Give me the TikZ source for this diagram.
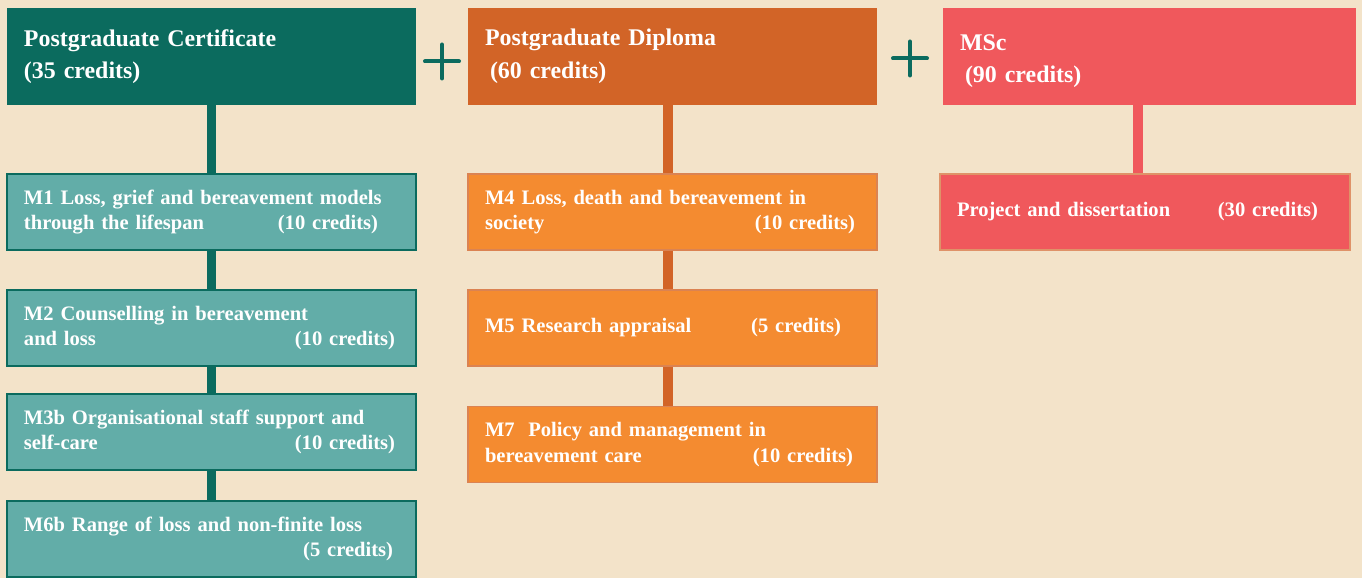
\documentclass[tikz,border=0pt]{standalone}
\usepackage{fontspec}
\setmainfont{Liberation Serif}[WordSpace=0.85]
\usepackage{xcolor}
\usepackage{tikz}
\usetikzlibrary{calc}
\definecolor{bgcream}{RGB}{243,227,201}
\definecolor{certdark}{RGB}{11,107,94}
\definecolor{certlight}{RGB}{98,173,168}
\definecolor{dipdark}{RGB}{210,100,39}
\definecolor{diplight}{RGB}{244,139,48}
\definecolor{mscred}{RGB}{240,88,92}

\begin{document}
\begin{tikzpicture}[
    hdr/.style={rectangle, text width=7.5cm, inner xsep=0.34cm, minimum height=1.94cm,
        align=left, text=white, font=\bfseries\fontsize{13.6}{18.5}\selectfont},
    modbox/.style={rectangle, text width=7.5cm, inner xsep=0.34cm, minimum height=1.52cm,
        align=left, text=white, line width=0.6pt, font=\bfseries\fontsize{11.7}{14.5}\selectfont},
    link/.style={line width=0.19cm},
    plussign/.style={line width=0.08cm, certdark, line cap=round}
]
    % Background
    \fill[bgcream] (0,0) rectangle (27.24,-11.56);
    \useasboundingbox (0,0) rectangle (27.24,-11.56);

    % Headers
    \node[hdr, fill=certdark] (cert) at (4.23,-1.13)
        {Postgraduate Certificate\\(35 credits)};
    \node[hdr, fill=dipdark] (dip) at (13.45,-1.13)
        {Postgraduate Diploma\\\hspace*{0.1cm}(60 credits)};
    \node[hdr, fill=mscred, text width=7.58cm] (msc) at (22.99,-1.13)
        {\rule{0pt}{0.5cm}MSc\\\hspace*{0.1cm}(90 credits)};

    % Plus signs
    \coordinate (plusa) at ($(cert.east)!0.5!(dip.west)+(0,-0.1)$);
    \coordinate (plusb) at ($(dip.east)!0.5!(msc.west)+(0,-0.04)$);
    \foreach \p in {plusa,plusb} {
        \draw[plussign] ($(\p)+(-0.34,0)$) -- ($(\p)+(0.34,0)$);
        \draw[plussign] ($(\p)+(0,-0.34)$) -- ($(\p)+(0,0.34)$);
    }

    % Certificate modules
    \node[modbox, fill=certlight, draw=certdark] (m1) at (4.23,-4.24)
        {M1 Loss, grief and bereavement models\\through the lifespan\hfill(10 credits)\hspace*{0.42cm}};
    \node[modbox, fill=certlight, draw=certdark] (m2) at (4.23,-6.56)
        {M2 Counselling in bereavement\\and loss\hfill(10 credits)\hspace*{0.08cm}};
    \node[modbox, fill=certlight, draw=certdark] (m3b) at (4.23,-8.64)
        {M3b Organisational staff support and\\self-care\hfill(10 credits)\hspace*{0.08cm}};
    \node[modbox, fill=certlight, draw=certdark] (m6b) at (4.23,-10.78)
        {M6b Range of loss and non-finite loss\\\mbox{}\hfill(5 credits)\hspace*{0.12cm}};

    % Diploma modules
    \node[modbox, fill=diplight, draw=dipdark!80] (m4) at (13.45,-4.24)
        {M4 Loss, death and bereavement in\\society\hfill(10 credits)\hspace*{0.1cm}};
    \node[modbox, fill=diplight, draw=dipdark!80] (m5) at (13.45,-6.56)
        {M5 Research appraisal\hfill(5 credits)\hspace*{0.38cm}};
    \node[modbox, fill=diplight, draw=dipdark!80] (m7) at (13.45,-8.89)
        {M7\ \ Policy and management in\\bereavement care\hfill(10 credits)\hspace*{0.14cm}};

    % MSc module
    \node[modbox, fill=mscred, draw=dipdark!70, text width=7.52cm] (proj) at (22.9,-4.24)
        {Project and dissertation\hfill(30 credits)\hspace*{0.3cm}};

    % Connectors
    \draw[link, certdark] (cert.south) -- (m1.north);
    \draw[link, certdark] (m1.south) -- (m2.north);
    \draw[link, certdark] (m2.south) -- (m3b.north);
    \draw[link, certdark] (m3b.south) -- (m6b.north);
    \draw[link, dipdark] ([xshift=-0.09cm]dip.south) -- ([xshift=-0.09cm]m4.north);
    \draw[link, dipdark] ([xshift=-0.09cm]m4.south) -- ([xshift=-0.09cm]m5.north);
    \draw[link, dipdark] ([xshift=-0.09cm]m5.south) -- ([xshift=-0.09cm]m7.north);
    \draw[link, mscred] ([xshift=-0.14cm]proj.north |- msc.south) -- ([xshift=-0.14cm]proj.north);
\end{tikzpicture}
\end{document}
